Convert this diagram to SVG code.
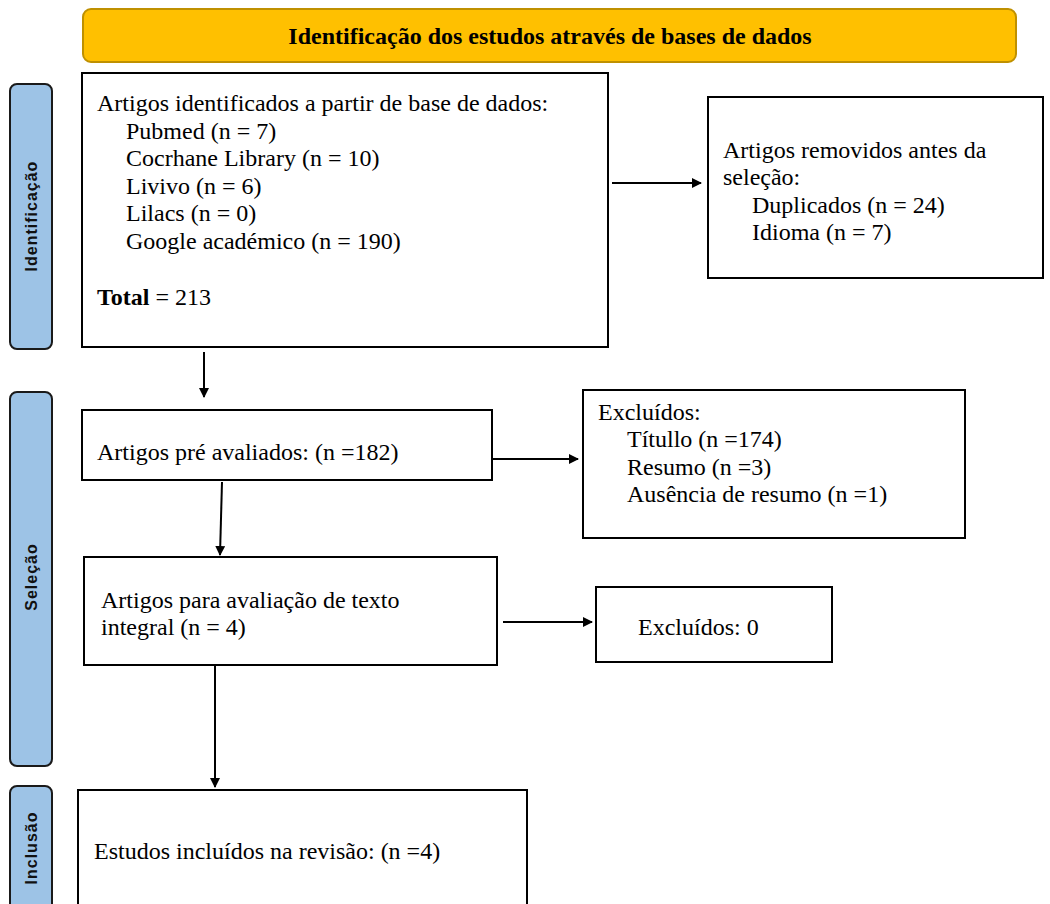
<svg xmlns="http://www.w3.org/2000/svg" width="1050" height="904" viewBox="0 0 1050 904">
<defs>
<marker id="arr" markerWidth="10" markerHeight="10" refX="9" refY="5" orient="auto" markerUnits="userSpaceOnUse">
<path d="M0,0 L10,5 L0,10 Z" fill="#000"/>
</marker>
<style>
.box{fill:#fff;stroke:#000;stroke-width:2}
.side{fill:#9DC3E6;stroke:#1a1a1a;stroke-width:2}
.sidet{font-family:"Liberation Sans",Arial,sans-serif;font-weight:bold;font-size:16px;letter-spacing:1px;fill:#111;text-anchor:middle}
.t{font-family:"Liberation Serif","Times New Roman",serif;font-size:24px;fill:#000}
.hdr{fill:#FFC000;stroke:#BF9000;stroke-width:2}
.hdrt{font-family:"Liberation Serif","Times New Roman",serif;font-size:24px;font-weight:bold;fill:#000;text-anchor:middle}
.c{stroke:#000;stroke-width:2;fill:none;marker-end:url(#arr)}
</style>
</defs>
<rect width="1050" height="904" fill="#fff"/>
<g id="header">
<rect class="hdr" x="83" y="9" width="933" height="53" rx="8"/>
<text class="hdrt" x="550" y="44">Identificação dos estudos através de bases de dados</text>
</g>
<g id="side-identificacao">
<rect class="side" x="10" y="84" width="42" height="265" rx="7"/>
<text class="sidet" transform="translate(37,216) rotate(-90)">Identificação</text>
</g>
<g id="side-selecao">
<rect class="side" x="10" y="392" width="42" height="374" rx="7"/>
<text class="sidet" transform="translate(37,577) rotate(-90)">Seleção</text>
</g>
<g id="side-inclusao">
<rect class="side" x="10" y="786" width="42" height="130" rx="7"/>
<text class="sidet" transform="translate(37,848) rotate(-90)">Inclusão</text>
</g>
<g id="box-identificados">
<rect class="box" x="82" y="73" width="526" height="274"/>
<text class="t" x="97" y="111">Artigos identificados a partir de base de dados:</text>
<text class="t" x="126" y="139">Pubmed (n = 7)</text>
<text class="t" x="126" y="166">Cocrhane Library (n = 10)</text>
<text class="t" x="126" y="194">Livivo (n = 6)</text>
<text class="t" x="126" y="221">Lilacs (n = 0)</text>
<text class="t" x="126" y="249">Google académico (n = 190)</text>
<text class="t" x="97" y="305"><tspan font-weight="bold">Total</tspan> = 213</text>
</g>
<g id="box-removidos">
<rect class="box" x="708" y="97" width="335" height="181"/>
<text class="t" x="723" y="158">Artigos removidos antes da</text>
<text class="t" x="723" y="185">seleção:</text>
<text class="t" x="752" y="213">Duplicados (n = 24)</text>
<text class="t" x="752" y="240">Idioma (n = 7)</text>
</g>
<g id="box-preavaliados">
<rect class="box" x="82" y="410" width="410" height="70"/>
<text class="t" x="97" y="460">Artigos pré avaliados: (n =182)</text>
</g>
<g id="box-excluidos1">
<rect class="box" x="583" y="390" width="382" height="148"/>
<text class="t" x="598" y="420">Excluídos:</text>
<text class="t" x="627" y="447">Títullo (n =174)</text>
<text class="t" x="627" y="475">Resumo (n =3)</text>
<text class="t" x="627" y="502">Ausência de resumo (n =1)</text>
</g>
<g id="box-texto-integral">
<rect class="box" x="84" y="557" width="413" height="108"/>
<text class="t" x="101" y="608">Artigos para avaliação de texto</text>
<text class="t" x="101" y="635">integral (n = 4)</text>
</g>
<g id="box-excluidos2">
<rect class="box" x="596" y="587" width="236" height="75"/>
<text class="t" x="638" y="635">Excluídos: 0</text>
</g>
<g id="box-incluidos">
<rect class="box" x="78" y="790" width="449" height="130"/>
<text class="t" x="94" y="859">Estudos incluídos na revisão: (n =4)</text>
</g>
<g id="connectors">
<line class="c" x1="612" y1="183" x2="701" y2="183"/>
<line class="c" x1="204" y1="352" x2="204" y2="397"/>
<line class="c" x1="493" y1="459" x2="578" y2="459"/>
<line class="c" x1="222" y1="482" x2="220" y2="555"/>
<line class="c" x1="503" y1="622" x2="592" y2="622"/>
<line class="c" x1="215" y1="666" x2="215" y2="787"/>
</g>
</svg>
